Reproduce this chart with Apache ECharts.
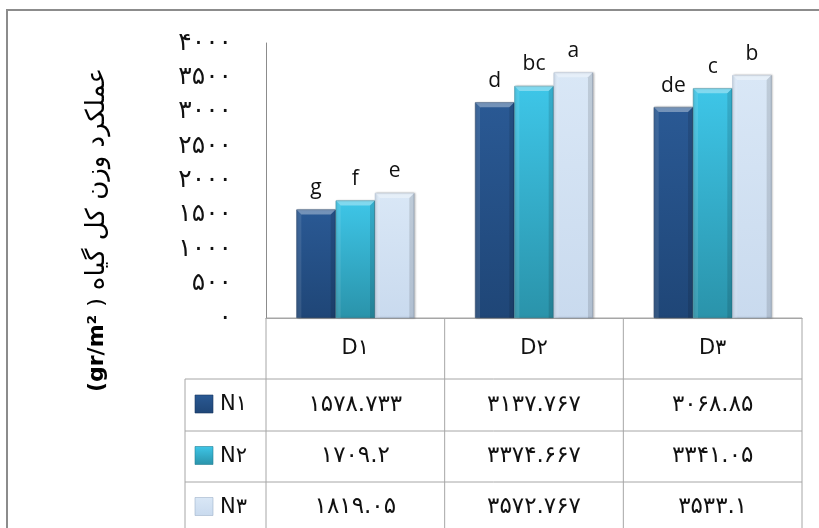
<!DOCTYPE html>
<html>
<head>
<meta charset="utf-8">
<script src="https://cdn.jsdelivr.net/npm/echarts@6/dist/echarts.min.js"></script>
<style>
  html, body { margin: 0; padding: 0; background: #fff; }
  #chart { width: 819px; height: 528px; }
</style>
</head>
<body>
<div id="chart"></div>
<script>
// Categories, series and values
const categories = ['D1', 'D2', 'D3'];
const seriesNames = ['N1', 'N2', 'N3'];
const valuesN1 = [1578.733, 3137.767, 3068.85];
const valuesN2 = [1709.2, 3374.667, 3341.05];
const valuesN3 = [1819.05, 3572.767, 3533.1];
// Mean-comparison letters shown above each bar
const lettersN1 = ['g', 'd', 'de'];
const lettersN2 = ['f', 'bc', 'c'];
const lettersN3 = ['e', 'a', 'b'];
const yTicks = [0, 500, 1000, 1500, 2000, 2500, 3000, 3500, 4000];
const yTitleUnit = 'gr/m²';
const yTitleText = 'عملکرد وزن کل گیاه';

const seriesValues = [valuesN1, valuesN2, valuesN3];
const seriesLetters = [lettersN1, lettersN2, lettersN3];

// Persian digits for labels
const fa = s => String(s).replace(/[0-9]/g, d => '۰۱۲۳۴۵۶۷۸۹'[+d]);

const fills = [
  { top: '#2a5994', bottom: '#1f4677', edge: '#17365e' },
  { top: '#3ec6e8', bottom: '#2a93aa', edge: '#237f93' },
  { top: '#d9e7f6', bottom: '#c9daee', edge: '#9fb2c9' }
];
const grad = (c) => new echarts.graphic.LinearGradient(0, 0, 0, 1, [
  { offset: 0, color: c.top },
  { offset: 1, color: c.bottom }
]);

// Layout
const G = { left: 266, top: 43, width: 536, height: 275 };
const gridBottom = G.top + G.height;
const rowLines = [gridBottom, 379, 431, 482, 533];
const legendLeft = 185;
const lineColor = '#a6a6a6';
const catW = G.width / categories.length;
const gapRatio = 0.34;
const bevel = 5;

const chart = echarts.init(document.getElementById('chart'));

const barSeries = seriesNames.map((name, si) => ({
  name,
  type: 'bar',
  barGap: 0,
  barCategoryGap: (gapRatio * 100) + '%',
  data: seriesValues[si].map((v, ci) => ({
    value: v,
    label: { formatter: seriesLetters[si][ci] }
  })),
  itemStyle: {
    color: grad(fills[si]),
    borderColor: fills[si].edge,
    borderWidth: 0.6,
    shadowColor: 'rgba(0,0,0,0.25)',
    shadowBlur: 2,
    shadowOffsetX: 1
  },
  label: {
    show: true,
    position: 'top',
    distance: 11,
    fontFamily: 'Open Sans',
    fontSize: 21,
    color: '#111'
  }
}));

// Bevel highlights laid over each bar
const bevelSeries = seriesNames.map((name, si) => ({
  type: 'custom',
  silent: true,
  z: 3,
  data: seriesValues[si].map((v, ci) => [ci, v]),
  renderItem: (params, api) => {
    const top = api.coord([api.value(0), api.value(1)]);
    const base = api.coord([api.value(0), 0]);
    const band = api.size([1, 0])[0];
    const barW = band * (1 - gapRatio) / seriesNames.length;
    const x0 = top[0] - band * (1 - gapRatio) / 2 + si * barW;
    const x1 = x0 + barW;
    const y0 = top[1], y1 = base[1];
    const b = bevel;
    return {
      type: 'group',
      children: [
        { type: 'polygon', shape: { points: [[x0, y0], [x1, y0], [x1 - b, y0 + b], [x0 + b, y0 + b]] },
          style: { fill: 'rgba(255,255,255,0.35)' } },
        { type: 'polygon', shape: { points: [[x0, y0], [x0 + b, y0 + b], [x0 + b, y1], [x0, y1]] },
          style: { fill: 'rgba(255,255,255,0.10)' } },
        { type: 'polygon', shape: { points: [[x1, y0], [x1 - b, y0 + b], [x1 - b, y1], [x1, y1]] },
          style: { fill: 'rgba(0,0,0,0.12)' } }
      ]
    };
  }
}));

// Table and frame drawn as graphics
const graphics = [];
graphics.push({ type: 'polyline', shape: { points: [[7, 540], [7, 10], [830, 10]] },
  style: { stroke: '#8c8c8c', lineWidth: 2, fill: null } });
rowLines.forEach((y, i) => {
  const x0 = i === 0 ? G.left : legendLeft;
  graphics.push({ type: 'line', shape: { x1: x0, y1: y, x2: G.left + G.width, y2: y },
    style: { stroke: lineColor, lineWidth: 1 } });
});
for (let c = 0; c <= categories.length; c++) {
  const x = G.left + c * catW;
  graphics.push({ type: 'line', shape: { x1: x, y1: gridBottom, x2: x, y2: 540 },
    style: { stroke: lineColor, lineWidth: 1 } });
}
graphics.push({ type: 'line', shape: { x1: legendLeft, y1: rowLines[1], x2: legendLeft, y2: 540 },
  style: { stroke: lineColor, lineWidth: 1 } });

const cellFont = { fontFamily: 'DejaVu Sans', fontSize: 23, fill: '#111', textAlign: 'center', textVerticalAlign: 'middle' };
categories.forEach((cat, c) => {
  graphics.push({ type: 'text', x: G.left + (c + 0.5) * catW, y: (rowLines[0] + rowLines[1]) / 2,
    style: Object.assign({}, cellFont, { text: fa(cat), fontSize: 21 }) });
});
seriesNames.forEach((name, si) => {
  const yc = (rowLines[si + 1] + rowLines[si + 2]) / 2;
  graphics.push({ type: 'rect', shape: { x: 195, y: yc - 10, width: 18, height: 18 },
    style: { fill: grad(fills[si]), stroke: fills[si].edge, lineWidth: 0.6 } });
  graphics.push({ type: 'text', x: 220, y: yc,
    style: Object.assign({}, cellFont, { text: fa(name), textAlign: 'left', fontSize: 21 }) });
  seriesValues[si].forEach((v, c) => {
    graphics.push({ type: 'text', x: G.left + (c + 0.5) * catW, y: yc,
      style: Object.assign({}, cellFont, { text: fa(v) }) });
  });
});
// vertical axis title: unit in parentheses, then the Persian label
graphics.push({ type: 'text', x: 97, y: 230, rotation: Math.PI / 2,
  style: {
    text: '{u|(}{u|' + yTitleUnit + '}{p|)}{t|' + yTitleText + '}',
    textAlign: 'center', textVerticalAlign: 'middle',
    rich: {
      u: { fontFamily: 'DejaVu Sans', fontSize: 22, fontWeight: 'bold', color: '#111' },
      p: { fontFamily: 'DejaVu Sans', fontSize: 22, fontWeight: 'normal', color: '#111', padding: [0, 8, 0, 8] },
      t: { fontFamily: 'DejaVu Sans', fontSize: 26, fontWeight: 'normal', color: '#111' }
    }
  } });

chart.setOption({
  animation: false,
  backgroundColor: '#fff',
  grid: { left: G.left, top: G.top, width: G.width, height: G.height, containLabel: false },
  xAxis: {
    type: 'category',
    data: categories,
    axisLine: { show: true, lineStyle: { color: lineColor, width: 1 } },
    axisTick: { show: false },
    axisLabel: { show: false }
  },
  yAxis: {
    type: 'value',
    min: yTicks[0],
    max: yTicks[yTicks.length - 1],
    interval: yTicks[1] - yTicks[0],
    axisLine: { show: true, lineStyle: { color: '#8c8c8c', width: 1 } },
    axisTick: { show: false },
    splitLine: { show: false },
    axisLabel: {
      margin: 34,
      fontFamily: 'DejaVu Sans',
      fontSize: 25,
      color: '#111',
      formatter: v => fa(v)
    }
  },
  series: barSeries.concat(bevelSeries),
  graphic: graphics
});
</script>
</body>
</html>
